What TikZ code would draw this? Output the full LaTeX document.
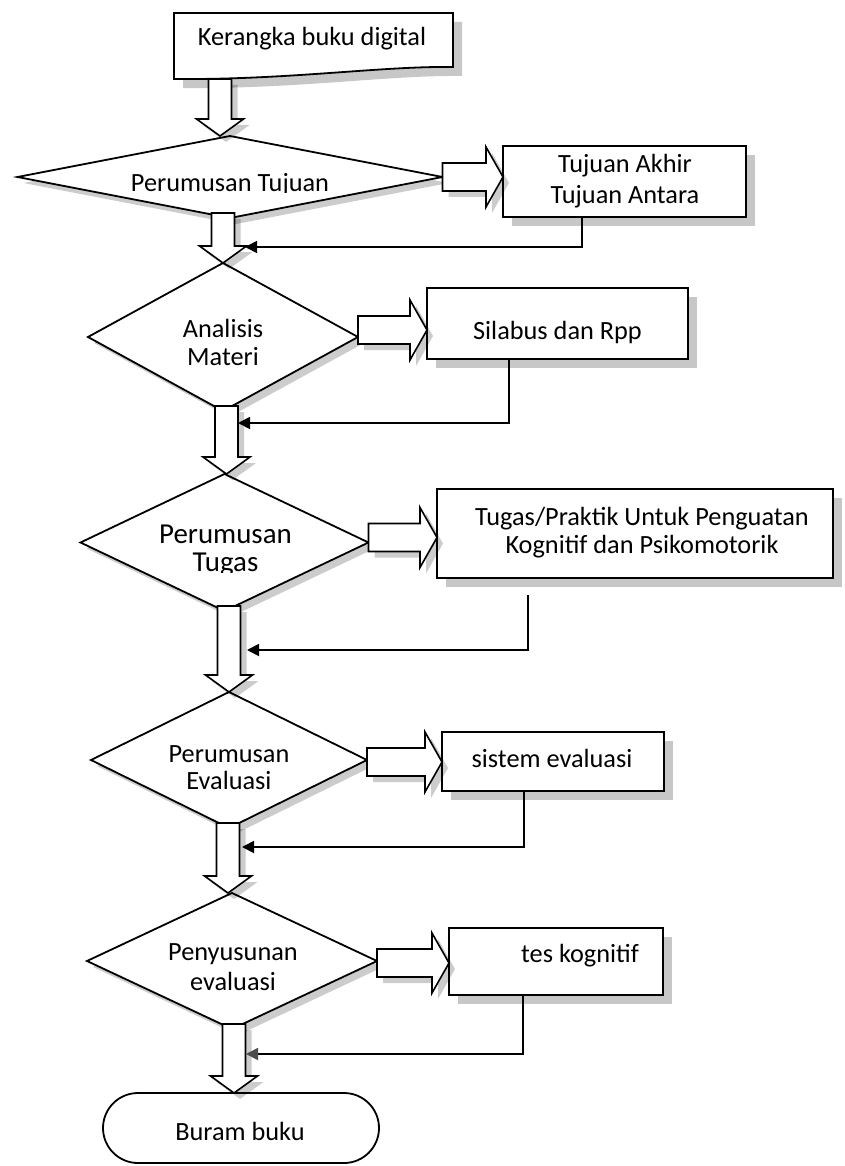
\documentclass[tikz,border=0pt]{standalone}
\usepackage{fontspec}
\setmainfont{Carlito}
\usetikzlibrary{shapes.geometric,shadows,calc,arrows.meta}

% two centred lines whose baseline is the first line's baseline
\newcommand{\twoline}[2]{\begin{tabular}[t]{@{}c@{}}#1\\#2\end{tabular}}

% hollow block arrow pointing down: [overlap]{from}{to}{x offset}
\newcommand{\vblock}[4][5]{%
  \draw[blockarrow] let \p1=(#2.south), \p2=(#3.north) in
    ({\x2+(#4)*1pt-11.5pt},{\y1+(#1)*1pt}) -- ({\x2+(#4)*1pt+11.5pt},{\y1+(#1)*1pt})
    -- ({\x2+(#4)*1pt+11.5pt},{\y2+17pt}) -- ({\x2+(#4)*1pt+23.5pt},{\y2+17pt})
    -- ({\x2+(#4)*1pt},{\y2}) -- ({\x2+(#4)*1pt-23.5pt},{\y2+17pt})
    -- ({\x2+(#4)*1pt-11.5pt},{\y2+17pt}) -- cycle;}

% hollow block arrow pointing right: {from}{to}{y offset, downwards}
\newcommand{\hblock}[3]{%
  \draw[blockarrow] let \p1=(#1.east), \p2=(#2.west) in
    ({\x1},{\y1-(#3)*1pt+14pt}) -- ({\x2-17pt},{\y1-(#3)*1pt+14pt})
    -- ({\x2-17pt},{\y1-(#3)*1pt+30pt}) -- ({\x2},{\y1-(#3)*1pt})
    -- ({\x2-17pt},{\y1-(#3)*1pt-30pt}) -- ({\x2-17pt},{\y1-(#3)*1pt-14pt})
    -- ({\x1},{\y1-(#3)*1pt-14pt}) -- cycle;}

\tikzset{
  shapeline/.style={draw=black, line width=1.8pt, fill=white},
  boxshadow/.style={drop shadow={shadow xshift=9pt, shadow yshift=-9pt, fill=black, opacity=.22}},
  softshadow/.style={drop shadow={shadow xshift=6pt, shadow yshift=-6pt, fill=black, opacity=.2}},
  decision/.style={diamond, shapeline, softshadow, inner sep=0pt, outer sep=0pt},
  stepbox/.style={rectangle, shapeline, boxshadow, inner sep=0pt, outer sep=0pt},
  terminal/.style={rectangle, shapeline, rounded corners=35pt, inner sep=0pt, outer sep=0pt},
  blockarrow/.style={shapeline, line width=1.6pt, line join=miter, softshadow},
  fb/.style={draw=black, line width=1.8pt, -{Triangle[length=12pt,width=12pt]}},
  fbgrey/.style={draw=black, line width=1.8pt, -{Triangle[length=12pt,width=12pt,color=black!70,fill=black!70]}},
  lbl/.style={font=\fontsize{26.3}{28}\selectfont, inner sep=0pt, anchor=base},
}

\begin{document}
\begin{tikzpicture}[x=1pt,y=-1pt]
\fill[white] (0,0) rectangle (844,1166);
\useasboundingbox (0,0) rectangle (844,1166);

% start: document shape with a wavy lower edge
\node[minimum width=279, minimum height=66, inner sep=0pt, outer sep=0pt] (doc) at (313.5,46) {};
\draw[shapeline, boxshadow] (doc.north west) -- (doc.north east) -- ($(doc.south east)+(0,-12)$)
  .. controls ($(doc.south east)+(-73,-13)$) and ($(doc.south west)+(116,1)$) .. (doc.south west) -- cycle;
\node[lbl] (doclbl) at (312,46) {Kerangka buku digital};

% decisions
\node[decision, minimum width=425, minimum height=82] (d1) at (230,177) {};
\node[decision, minimum width=270, minimum height=148] (d2) at (223,337) {};
\node[decision, minimum width=288, minimum height=137] (d3) at (224.5,542.5) {};
\node[decision, minimum width=276, minimum height=136] (d4) at (229,760) {};
\node[decision, minimum width=290, minimum height=136] (d5) at (232,961) {};

% outputs of each step
\node[stepbox, minimum width=243, minimum height=71] (t1) at (624.5,181.5) {};
\node[stepbox, minimum width=261, minimum height=71] (t2) at (557.5,323.5) {};
\node[stepbox, minimum width=396, minimum height=89] (t3) at (635,533.5) {};
\node[stepbox, minimum width=222, minimum height=59] (t4) at (553,761.5) {};
\node[stepbox, minimum width=214, minimum height=67] (t5) at (556,961.5) {};

% end
\node[terminal, minimum width=276, minimum height=70] (term) at (241,1128) {};

% labels of the decisions (two of them cut at the bottom of their text frame)
\begin{scope}
  \clip (0,0) rectangle (844,193);
  \node[lbl] (d1l) at (230,192) {Perumusan Tujuan};
\end{scope}
\node[lbl] (d2l) at (223,337) {\twoline{Analisis}{Materi}};
\begin{scope}
  \clip (0,0) rectangle (844,572);
  \node[lbl, font=\fontsize{28.9}{28}\selectfont] (d3l) at (225.5,543) {\twoline{Perumusan}{Tugas}};
\end{scope}
\node[lbl, font=\fontsize{26.3}{27}\selectfont] (d4l) at (229,762) {\twoline{Perumusan}{Evaluasi}};
\node[lbl, font=\fontsize{26.3}{30}\selectfont] (d5l) at (233,960) {\twoline{Penyusunan}{evaluasi}};

% labels of the boxes
\node[lbl, font=\fontsize{26.3}{31}\selectfont] (t1l) at (625,173) {\twoline{Tujuan Akhir}{Tujuan Antara}};
\node[lbl] (t2l) at (557.5,339) {Silabus dan Rpp};
\node[lbl] (t3l) at (642,525) {\twoline{Tugas/Praktik Untuk Penguatan}{Kognitif dan Psikomotorik}};
\node[lbl] (t4l) at (552,767) {sistem evaluasi};
\node[lbl] (t5l) at (580,962) {tes kognitif};
\node[lbl] (terml) at (240,1140) {Buram buku};

% main flow
\vblock[0]{doc}{d1}{-10}
\vblock{d1}{d2}{0}
\vblock{d2}{d3}{2}
\vblock{d3}{d4}{0}
\vblock{d4}{d5}{-4}
\vblock{d5}{term}{-7}

% side outputs
\hblock{d1}{t1}{0}
\hblock{d2}{t2}{-7}
\hblock{d3}{t3}{-5}
\hblock{d4}{t4}{2}
\hblock{d5}{t5}{2}

% feedback into the main flow
\coordinate (c1) at (582,247);  \coordinate (j1) at (245,247);
\coordinate (c2) at (509,423);  \coordinate (j2) at (238,423);
\coordinate (c3) at (528,650);  \coordinate (j3) at (247,650);
\coordinate (c4) at (524,847);  \coordinate (j4) at (242,847);
\coordinate (c5) at (523,1054); \coordinate (j5) at (246,1054);
\draw[fb] (c1 |- t1.south) -- (c1) -- (j1);
\draw[fb] (c2 |- t2.south) -- (c2) -- (j2);
\draw[fb] ($(c3 |- t3.south)+(0,17)$) -- (c3) -- (j3);
\draw[fb] (c4 |- t4.south) -- (c4) -- (j4);
\draw[fbgrey] (c5 |- t5.south) -- (c5) -- (j5);
\end{tikzpicture}
\end{document}
